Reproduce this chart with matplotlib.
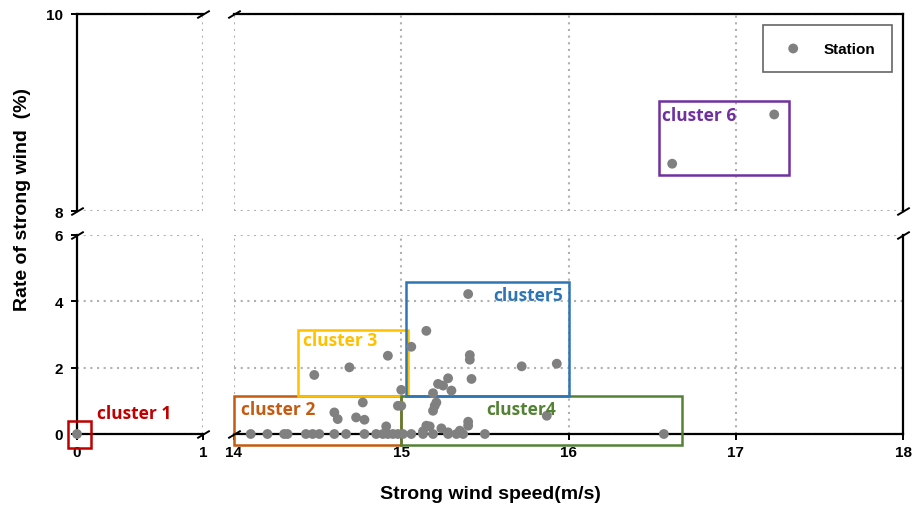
import numpy as np
import matplotlib
matplotlib.use("Agg")
import matplotlib.pyplot as plt
from matplotlib.patches import Rectangle
from matplotlib.font_manager import FontProperties

# station data: strong wind speed (m/s) and rate of strong wind (%)
speed = [0.0,
         14.10, 14.20, 14.30, 14.32, 14.43, 14.47, 14.51, 14.60, 14.67, 14.78, 14.85, 14.89,
         14.92, 14.95, 14.98, 15.01, 15.06, 15.13, 15.19, 15.28, 15.33, 15.37, 15.50, 16.57,
         14.48, 14.69, 14.92, 15.06, 15.15, 15.40, 15.41, 15.41, 15.72, 15.93, 15.28, 15.22,
         15.25, 15.42, 15.30, 15.00, 15.19, 15.21, 15.20, 15.19, 14.77, 14.98, 15.00, 14.60,
         14.62, 14.73, 14.78, 15.87, 15.40, 15.40, 15.15, 15.17, 14.91, 15.24, 15.28, 15.35,
         15.13,
         16.62, 17.23]
rate = [0.0,
        0, 0, 0, 0, 0, 0, 0, 0, 0, 0, 0, 0,
        0, 0, 0, 0, 0, 0, 0, 0, 0, 0, 0, 0,
        1.78, 2.01, 2.36, 2.63, 3.11, 4.22, 2.38, 2.24, 2.04, 2.12, 1.68, 1.51,
        1.46, 1.66, 1.31, 1.33, 1.23, 0.95, 0.85, 0.70, 0.95, 0.85, 0.85, 0.65,
        0.45, 0.50, 0.43, 0.55, 0.37, 0.25, 0.25, 0.23, 0.23, 0.17, 0.05, 0.10,
        0.08,
        8.48, 8.98]

# clusters: name, panel, (x0, x1, y0, y1), colour, label pos, alignment
cluster_names = ["cluster 1", "cluster 2", "cluster 3", "cluster4", "cluster5", "cluster 6"]
cluster_panel = ["bl", "br", "br", "br", "br", "tr"]
cluster_box = [(-0.07, 0.11, -0.42, 0.39), (14.0, 15.0, -0.33, 1.14), (14.38, 15.04, 1.14, 3.14),
               (15.0, 16.68, -0.32, 1.15), (15.03, 16.0, 1.15, 4.57), (16.54, 17.32, 8.37, 9.12)]
cluster_color = ["#C00000", "#C55A11", "#FFC000", "#548235", "#2E75B6", "#7030A0"]
cluster_text = [(0.16, 0.63), (14.04, 0.75), (14.41, 2.83), (15.51, 0.75), (15.97, 4.19), (16.56, 8.97)]
cluster_ha = ["left", "left", "left", "left", "right", "left"]

x_left = (0, 1)
x_right = (14, 18)
y_bottom = (0, 6)
y_top = (8, 10)

W, H = 914, 510
fig = plt.figure(figsize=(W / 100, H / 100), dpi=100)

def px_axes(x0, x1, y0, y1):
    return fig.add_axes([x0 / W, 1 - y1 / H, (x1 - x0) / W, (y1 - y0) / H])

ax_tl = px_axes(77, 203, 15, 212)
ax_tr = px_axes(234, 903, 15, 212)
ax_bl = px_axes(77, 203, 236, 435)
ax_br = px_axes(234, 903, 236, 435)
axes = {"tl": ax_tl, "tr": ax_tr, "bl": ax_bl, "br": ax_br}

tick_fp = FontProperties(family="Liberation Sans", weight="bold", size=11)
grid_kw = dict(color="#b0b0b0", linestyle=(0, (1, 2.2)), linewidth=1.5)

sp = np.array(speed)
rt = np.array(rate)

for key, ax in axes.items():
    xl = x_left if key[1] == "l" else x_right
    yl = y_top if key[0] == "t" else y_bottom
    ax.set_xlim(xl)
    ax.set_ylim(yl)
    ax.set_xticks(np.arange(xl[0], xl[1] + 1))
    ax.set_yticks(np.arange(yl[0], yl[1] + 1, 2))
    ax.grid(True, **grid_kw)
    ax.set_axisbelow(True)
    for s in ax.spines.values():
        s.set_linewidth(1.6)
    ax.spines["top"].set_visible(key[0] == "t")
    ax.spines["bottom"].set_visible(key[0] == "b")
    ax.spines["left"].set_visible(key[1] == "l")
    ax.spines["right"].set_visible(key[1] == "r")
    ax.tick_params(direction="out", length=4, width=1.4,
                   bottom=(key[0] == "b"), labelbottom=(key[0] == "b"),
                   left=(key[1] == "l"), labelleft=(key[1] == "l"))
    ax.tick_params(axis="y", pad=6)
    ax.tick_params(axis="x", pad=4)
    for lab in ax.get_xticklabels() + ax.get_yticklabels():
        lab.set_fontproperties(tick_fp)
    m = (sp >= xl[0] - 0.01) & (sp <= xl[1] + 0.01) & (rt >= yl[0] - 0.01) & (rt <= yl[1] + 0.01)
    if m.any():
        ax.scatter(sp[m], rt[m], s=50, color="#808080", edgecolors="none", zorder=5,
                   clip_on=False)

# cluster boxes and labels
for name, pan, box, col, tpos, ha in zip(cluster_names, cluster_panel, cluster_box,
                                         cluster_color, cluster_text, cluster_ha):
    ax = axes[pan]
    x0, x1, y0, y1 = box
    ax.add_patch(Rectangle((x0, y0), x1 - x0, y1 - y0, fill=False, edgecolor=col,
                           linewidth=1.8, clip_on=False, zorder=4))
    ax.text(tpos[0], tpos[1], name, color=col, ha=ha, va="center",
            fontproperties=FontProperties(family="Open Sans", weight="bold", size=12.5),
            zorder=6)

# break marks
d = 0.6
brk = dict(marker=[(-1, -d), (1, d)], markersize=9, linestyle="none", color="k",
           mec="k", mew=1.4, clip_on=False, zorder=10)
ax_tl.plot([1, 0], [1, 0], transform=ax_tl.transAxes, **brk)
ax_tr.plot([0, 1], [1, 0], transform=ax_tr.transAxes, **brk)
ax_bl.plot([0, 1], [1, 0], transform=ax_bl.transAxes, **brk)
ax_br.plot([0, 1], [0, 1], transform=ax_br.transAxes, **brk)

ax_tr.scatter([], [], s=50, color="#808080", edgecolors="none", label="Station")
leg = ax_tr.legend(loc="upper right", frameon=True, fancybox=False, handletextpad=1.1,
                   borderpad=1.1, borderaxespad=0.7, handlelength=1.8,
                   prop=dict(family="Liberation Sans", weight="bold", size=11))
leg.get_frame().set_edgecolor("#404040")
leg.get_frame().set_linewidth(1.2)

fig.text(490 / W, 1 - 495 / H, "Strong wind speed(m/s)", ha="center", va="center",
         fontsize=14, fontweight="bold", family="Liberation Sans")
fig.text(23 / W, 1 - 200 / H, "Rate of strong wind  (%)", ha="center", va="center",
         rotation=90, fontsize=14, fontweight="bold", family="Liberation Sans")

fig.savefig("out.png", dpi=100)
